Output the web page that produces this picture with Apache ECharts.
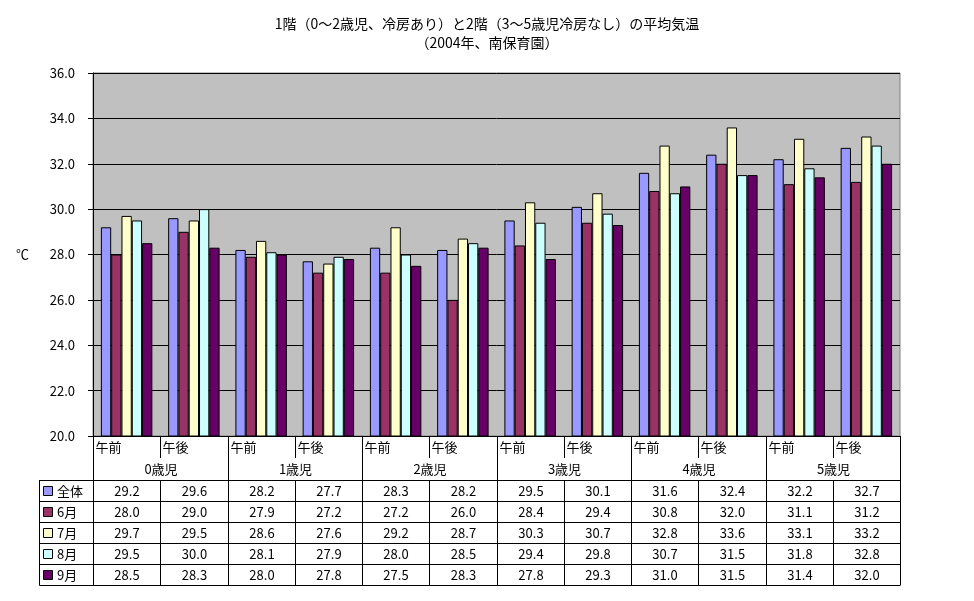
<!DOCTYPE html>
<html><head><meta charset="utf-8">
<script src="https://cdn.jsdelivr.net/npm/echarts@6/dist/echarts.min.js"></script>
<style>html,body{margin:0;padding:0;background:#fff}#c{width:974px;height:601px}</style>
</head><body><div id="c"></div>
<script>
const titleText = '1階（0～2歳児、冷房あり）と2階（3～5歳児冷房なし）の平均気温\n（2004年、南保育園）';
const groups = ['0歳児','1歳児','2歳児','3歳児','4歳児','5歳児'];
const periods = ['午前','午後'];
const seriesNames = ['全体','6月','7月','8月','9月'];
const colors = ['#9999FF','#993366','#FFFFCC','#CCFFFF','#660066'];
const valAll = [29.2,29.6,28.2,27.7,28.3,28.2,29.5,30.1,31.6,32.4,32.2,32.7];
const valJun = [28.0,29.0,27.9,27.2,27.2,26.0,28.4,29.4,30.8,32.0,31.1,31.2];
const valJul = [29.7,29.5,28.6,27.6,29.2,28.7,30.3,30.7,32.8,33.6,33.1,33.2];
const valAug = [29.5,30.0,28.1,27.9,28.0,28.5,29.4,29.8,30.7,31.5,31.8,32.8];
const valSep = [28.5,28.3,28.0,27.8,27.5,28.3,27.8,29.3,31.0,31.5,31.4,32.0];
const yTicks = [20,22,24,26,28,30,32,34,36];

const allValues = [valAll,valJun,valJul,valAug,valSep];
const categories = [];
groups.forEach(g => periods.forEach(p => categories.push(g + p)));
const FONT = '"Noto Sans CJK JP","Noto Sans CJK SC",sans-serif';

const chart = echarts.init(document.getElementById('c'), null, {renderer:'canvas'});
chart.setOption({
  animation:false,
  backgroundColor:'#ffffff',
  textStyle:{fontFamily:FONT},
  title:{text:titleText,left:'center',top:9,textStyle:{fontSize:14,fontWeight:'normal',color:'#000',lineHeight:19,fontFamily:FONT}},
  grid:{left:93,right:74,top:73,bottom:165,show:true,backgroundColor:'#c0c0c0',borderColor:'#808080',borderWidth:1},
  xAxis:{type:'category',data:categories,axisLabel:{show:false},axisTick:{show:false},
    axisLine:{lineStyle:{color:'#000',width:1}}},
  yAxis:{type:'value',min:yTicks[0],max:yTicks[yTicks.length-1],interval:2,
    name:'℃',nameLocation:'middle',nameRotate:0,nameGap:64,
    nameTextStyle:{color:'#000',fontSize:13,fontFamily:FONT},
    axisLine:{show:true,lineStyle:{color:'#000'}},
    axisTick:{show:true,length:5,lineStyle:{color:'#000'}},
    axisLabel:{formatter:v=>v.toFixed(1),color:'#000',fontSize:13,margin:18,fontFamily:FONT},
    splitLine:{lineStyle:{color:'#000',width:1}}},
  series: seriesNames.map((n,i)=>({
    name:n,type:'bar',data:allValues[i],barGap:'0%',barCategoryGap:'23.5%',
    itemStyle:{color:colors[i],borderColor:'#000',borderWidth:1}
  }))
});

function buildTable(){
  const c0 = chart.convertToPixel({xAxisIndex:0},0);
  const c1 = chart.convertToPixel({xAxisIndex:0},1);
  const band = c1 - c0;
  const left = c0 - band/2;
  const yBase = Math.round(chart.convertToPixel({yAxisIndex:0},yTicks[0]));
  const n = categories.length;
  const bx = i => Math.round(left + band*i) + 0.5;
  const rowH = 21;
  const labelRowBottom = yBase + 22;
  const tableTop = yBase + 44;
  const nRows = seriesNames.length;
  const tableBottom = tableTop + rowH*nRows;
  const tableLeft = 39.5;
  const els = [];
  const line = (x1,y1,x2,y2)=>els.push({type:'line',silent:true,shape:{x1,y1,x2,y2},style:{stroke:'#000',lineWidth:1}});
  const text = (t,x,y,align)=>els.push({type:'text',silent:true,style:{text:t,x,y,fill:'#000',font:'13px '+FONT,textAlign:align,textVerticalAlign:'middle'}});
  for(let i=0;i<n;i++){
    text(periods[i%2], bx(i)+2, yBase+11, 'left');
  }
  for(let i=0;i<=n;i++){
    if(i%2===1){ line(bx(i),yBase,bx(i),labelRowBottom); line(bx(i),tableTop,bx(i),tableBottom); }
    else { line(bx(i),yBase,bx(i),tableBottom); }
  }
  groups.forEach((g,k)=>{ text(g,(bx(2*k)+bx(2*k+2))/2, yBase+33, 'center'); });
  for(let r=0;r<=nRows;r++){ const y=tableTop+rowH*r+0.5; line(tableLeft,y,bx(n),y); }
  line(tableLeft,tableTop,tableLeft,tableBottom+0.5);
  for(let r=0;r<nRows;r++){
    const cy = tableTop + rowH*r + rowH/2 + 1;
    els.push({type:'rect',silent:true,shape:{x:43.5,y:Math.round(cy)-5.5,width:9,height:9},style:{fill:colors[r],stroke:'#000',lineWidth:1}});
    text(seriesNames[r], 57, cy, 'left');
    allValues[r].forEach((v,i)=>{ text(v.toFixed(1),(bx(i)+bx(i+1))/2, cy, 'center'); });
  }
  chart.setOption({graphic:{elements:els}});
}
buildTable();
</script></body></html>
